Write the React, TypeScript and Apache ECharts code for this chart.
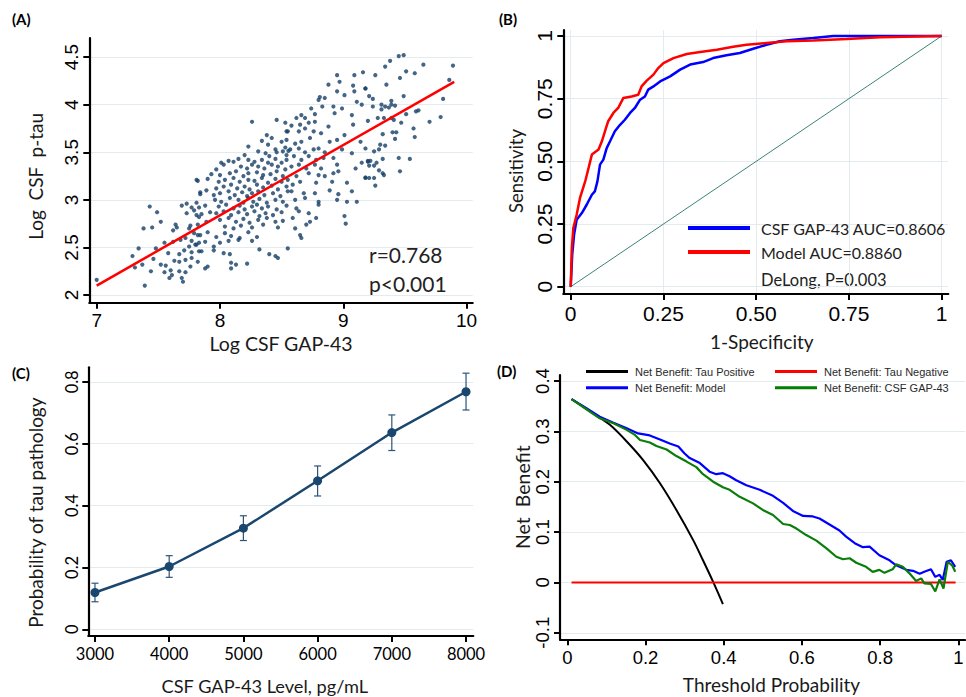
import React, { useEffect, useRef } from 'react';
import * as echarts from 'echarts';

// ---------- Panel A: scatter of Log CSF GAP-43 vs Log CSF p-tau ----------
const scatterPoints: number[][] = [
  // lower-left
  [7.81,3.21],[7.84,3.06],[7.43,2.93],[7.49,2.87],[7.45,2.71],[7.38,2.70],[7.52,2.77],[7.69,2.94],[7.73,2.96],[7.77,2.92],
  [7.79,2.89],[7.83,2.92],[7.73,2.86],[7.81,2.84],[7.83,2.82],[7.76,2.73],[7.75,2.70],[7.64,2.74],[7.62,2.68],[7.65,2.71],
  [7.79,2.65],[7.82,2.63],[7.55,2.55],[7.62,2.56],[7.68,2.58],[7.72,2.60],[7.77,2.57],[7.75,2.51],[7.80,2.53],[7.83,2.55],
  [7.34,2.49],[7.48,2.49],[7.29,2.41],[7.58,2.44],[7.67,2.43],[7.71,2.47],[7.77,2.45],[7.83,2.46],[7.63,2.36],[7.67,2.35],
  [7.72,2.37],[7.77,2.39],[7.82,2.35],[7.46,2.38],[7.37,2.32],[7.31,2.29],[7.52,2.32],[7.56,2.31],[7.55,2.24],[7.60,2.26],
  [7.61,2.21],[7.67,2.25],[7.72,2.24],[7.76,2.30],[7.69,2.18],[7.70,2.14],[7.59,2.18],[7.44,2.25],[7.00,2.16],[7.39,2.10],
  // centre-left margins
  [8.26,3.82],[8.46,3.84],[8.53,3.81],[8.54,3.72],[8.38,3.68],[8.34,3.62],[8.42,3.65],[8.23,3.56],[8.39,3.58],[8.50,3.61],
  [8.53,3.55],[8.45,3.53],[7.93,3.27],[7.82,3.20],[7.90,3.22],[7.84,3.08],[7.89,3.10],[7.95,3.05],[7.81,2.97],[7.88,2.94],
  [7.85,2.85],[7.92,2.87],[7.82,2.74],[7.89,2.77],[7.84,2.63],[7.90,2.66],[7.97,2.61],[8.04,2.65],[8.09,2.62],[8.16,2.60],
  [8.23,2.66],[8.30,2.61],[7.81,2.53],[7.88,2.56],[7.95,2.51],[8.00,2.55],[8.07,2.57],[8.15,2.58],[8.26,2.57],[7.85,2.46],
  [7.95,2.47],[8.03,2.44],[8.08,2.43],[8.32,2.48],[8.40,2.43],[8.45,2.41],[8.47,2.39],[7.88,2.28],[7.90,2.30],[8.09,2.34],
  [8.13,2.32],[8.22,2.33],[8.09,2.28],
  // dense core
  [8.20,3.47],[8.31,3.51],[8.37,3.49],[8.40,3.46],[8.46,3.50],[8.51,3.51],[8.54,3.47],[8.555,3.515],
  [8.01,3.39],[8.07,3.41],[8.11,3.40],[8.15,3.43],[8.23,3.42],[8.28,3.40],[8.34,3.42],[8.39,3.39],[8.45,3.43],[8.50,3.39],[8.54,3.42],
  [8.03,3.37],[8.17,3.35],[8.22,3.33],[8.26,3.37],[8.31,3.35],[8.36,3.33],[8.42,3.37],[8.47,3.35],[8.53,3.32],[7.97,3.32],
  [8.00,3.26],[8.08,3.28],[8.13,3.30],[8.19,3.25],[8.23,3.28],[8.30,3.29],[8.35,3.26],[8.41,3.27],[8.46,3.30],[8.51,3.25],
  [7.99,3.19],[8.04,3.21],[8.11,3.23],[8.16,3.19],[8.23,3.21],[8.28,3.20],[8.34,3.23],[8.39,3.18],[8.45,3.22],[8.50,3.19],[8.55,3.21],
  [7.97,3.12],[8.03,3.14],[8.09,3.16],[8.14,3.12],[8.20,3.14],[8.24,3.11],[8.30,3.16],[8.35,3.13],[8.42,3.15],[8.47,3.11],[8.54,3.14],
  [8.00,3.07],[8.07,3.09],[8.12,3.05],[8.18,3.08],[8.22,3.04],[8.26,3.07],[8.31,3.09],[8.36,3.05],[8.43,3.07],[8.49,3.04],[8.55,3.09],
  [7.96,3.00],[8.01,2.98],[8.08,3.02],[8.15,3.00],[8.19,2.97],[8.23,3.02],[8.27,2.98],[8.32,3.01],[8.38,2.97],[8.45,3.00],[8.51,2.98],
  [7.99,2.93],[8.05,2.95],[8.11,2.91],[8.16,2.94],[8.20,2.90],[8.26,2.93],[8.30,2.95],[8.34,2.91],[8.39,2.93],[8.46,2.90],[8.54,2.94],
  [7.97,2.86],[8.03,2.88],[8.09,2.84],[8.15,2.87],[8.22,2.85],[8.28,2.88],[8.32,2.83],[8.37,2.86],[8.43,2.84],[8.50,2.87],
  [8.00,2.79],[8.07,2.81],[8.13,2.77],[8.19,2.80],[8.24,2.76],[8.31,2.79],[8.38,2.81],[8.45,2.77],[8.51,2.78],
  [8.04,2.72],[8.11,2.70],[8.17,2.73],[8.26,2.71],[8.35,2.74],[8.47,2.71],
  // centre-right
  [8.95,4.31],[9.16,4.34],[9.09,4.31],[8.88,4.21],[8.97,4.24],[9.08,4.20],[9.18,4.17],[8.95,4.14],[9.01,4.10],[9.09,4.14],
  [8.81,4.08],[8.85,4.07],[8.80,4.05],[9.11,4.03],[9.15,4.00],[8.83,3.98],[8.92,3.98],[8.99,3.96],[8.74,3.96],[8.66,3.89],
  [8.62,3.86],[8.69,3.86],[8.77,3.90],[8.93,3.91],[9.07,3.89],[8.58,3.78],[8.65,3.79],[8.72,3.81],[8.77,3.82],[8.88,3.77],
  [9.08,3.79],[8.55,3.72],[8.64,3.72],[8.69,3.75],[8.76,3.72],[8.82,3.70],[9.01,3.68],[8.54,3.63],[8.61,3.59],[8.66,3.61],
  [8.73,3.65],[8.89,3.61],[8.95,3.63],[9.14,3.61],[8.57,3.53],[8.64,3.54],[8.69,3.50],[8.76,3.53],[8.80,3.54],[8.85,3.50],
  [8.99,3.53],[9.07,3.49],[9.18,3.54],[8.60,3.46],[8.66,3.42],[8.72,3.46],[8.78,3.42],[8.84,3.44],[8.92,3.44],
  [9.15,3.39],[9.20,3.40],[8.58,3.35],[8.64,3.37],[8.70,3.33],[8.77,3.37],[8.82,3.33],[8.95,3.37],[9.10,3.33],
  [8.62,3.25],[8.72,3.28],[8.80,3.26],[8.85,3.25],[8.92,3.28],[8.96,3.30],[9.18,3.235],[8.59,3.16],[8.65,3.19],
  [8.78,3.18],[8.91,3.19],[9.03,3.18],[8.58,3.09],[8.68,3.07],[8.77,3.07],[8.89,3.10],[8.96,3.06],[9.07,3.09],[8.61,3.00],
  [8.69,3.02],[8.80,2.98],[8.95,3.00],[9.03,2.98],[9.11,2.98],[8.62,2.91],[8.64,2.88],[8.80,2.95],[8.59,2.81],
  [8.72,2.86],[8.73,2.77],[8.78,2.81],[9.01,2.83],[8.61,2.70],[8.70,2.74],[9.02,2.75],[8.65,2.63],[8.66,2.60],
  [8.55,2.49],
  // upper-right
  [9.45,4.51],[9.49,4.52],[9.38,4.46],[9.34,4.40],[9.65,4.42],[9.89,4.41],[9.51,4.35],[9.58,4.33],[9.26,4.31],[9.46,4.28],
  [9.35,4.21],[9.18,4.17],[9.86,4.26],[9.21,4.09],[9.24,4.06],[9.49,4.09],[9.81,4.06],[9.31,4.00],[9.39,4.04],[9.42,3.99],
  [9.34,3.98],[9.37,3.97],[9.24,3.98],[9.31,3.95],[9.39,4.00],[9.51,3.90],[9.59,3.93],[9.61,3.94],[9.79,3.87],[9.28,3.86],
  [9.33,3.86],[9.39,3.86],[9.41,3.84],[9.20,3.83],[9.47,3.81],[9.70,3.82],[9.57,3.75],[9.32,3.69],[9.40,3.71],[9.43,3.71],
  [9.58,3.66],[9.42,3.64],[9.30,3.58],[9.34,3.57],[9.29,3.53],[9.25,3.51],[9.45,3.44],[9.54,3.43],[9.32,3.43],[9.20,3.41],
  [9.22,3.41],[9.27,3.39],[9.21,3.36],[9.25,3.36],[9.29,3.31],[9.32,3.28],[9.33,3.26],[9.46,3.30],[9.18,3.23],[9.21,3.23],
  [9.25,3.23],[9.26,3.15]
];
const fitLine: number[][] = [[7.0, 2.10], [9.9, 4.24]];
const aXTicks = [7, 8, 9, 10];
const aYTicks = [2, 2.5, 3, 3.5, 4, 4.5];

// ---------- Panel B: ROC curves ----------
const rocGap43: number[][] = [
  [0,0],[0.004,0.128],[0.009,0.207],[0.016,0.267],[0.030,0.294],[0.043,0.327],[0.057,0.367],[0.065,0.380],
  [0.072,0.420],[0.079,0.487],[0.088,0.507],[0.097,0.553],[0.106,0.580],[0.119,0.620],[0.133,0.646],[0.146,0.666],
  [0.160,0.693],[0.173,0.713],[0.187,0.746],[0.200,0.759],[0.209,0.786],[0.223,0.799],[0.241,0.819],[0.268,0.839],
  [0.295,0.866],[0.322,0.886],[0.357,0.896],[0.384,0.912],[0.420,0.923],[0.456,0.932],[0.492,0.949],[0.528,0.965],
  [0.564,0.979],[0.600,0.985],[0.654,0.992],[0.708,1.0],[1,1]
];
const rocModel: number[][] = [
  [0,0],[0.003,0.154],[0.007,0.234],[0.016,0.287],[0.025,0.354],[0.039,0.420],[0.048,0.473],[0.057,0.527],
  [0.075,0.547],[0.084,0.580],[0.095,0.633],[0.101,0.660],[0.115,0.693],[0.128,0.713],[0.142,0.753],[0.164,0.759],
  [0.182,0.766],[0.191,0.799],[0.205,0.822],[0.223,0.846],[0.236,0.872],[0.250,0.892],[0.277,0.912],[0.313,0.928],
  [0.349,0.936],[0.394,0.945],[0.438,0.957],[0.474,0.965],[0.528,0.972],[0.582,0.979],[0.654,0.982],[0.744,0.988],
  [0.834,0.995],[1,1]
];
const rocReference: number[][] = [[0, 0], [1, 1]];
const bTicks = [0, 0.25, 0.5, 0.75, 1];
const bTickLabels = ['0', '0.25', '0.50', '0.75', '1'];

// ---------- Panel C: predicted probability ----------
const cLevels = [3000, 4000, 5000, 6000, 7000, 8000];
const cProb = [0.119, 0.203, 0.327, 0.480, 0.636, 0.768];
const cLower = [0.089, 0.168, 0.287, 0.431, 0.578, 0.709];
const cUpper = [0.149, 0.238, 0.367, 0.528, 0.693, 0.828];
const cXTicks = [3000, 4000, 5000, 6000, 7000, 8000];
const cYTicks = [0, 0.2, 0.4, 0.6, 0.8];

// ---------- Panel D: decision curves ----------
const dTauPositive: number[][] = [
  [0.011,0.364],[0.066,0.336],[0.109,0.313],[0.152,0.280],[0.194,0.243],[0.237,0.197],[0.279,0.144],
  [0.322,0.084],[0.347,0.044],[0.373,0.001],[0.398,-0.043]
];
const dTauNegative: number[][] = [[0.011, 0], [0.993, 0]];
const dModel: number[][] = [
  [0.011,0.364],[0.049,0.346],[0.083,0.329],[0.118,0.317],[0.152,0.306],[0.181,0.296],[0.211,0.292],[0.237,0.284],
  [0.262,0.276],[0.284,0.270],[0.300,0.256],[0.313,0.247],[0.339,0.237],[0.364,0.220],[0.381,0.215],[0.398,0.217],
  [0.415,0.211],[0.432,0.203],[0.458,0.193],[0.492,0.184],[0.526,0.172],[0.552,0.158],[0.577,0.142],[0.603,0.132],
  [0.628,0.131],[0.645,0.127],[0.662,0.119],[0.696,0.103],[0.713,0.091],[0.735,0.078],[0.756,0.070],[0.773,0.071],
  [0.798,0.054],[0.824,0.044],[0.841,0.034],[0.867,0.025],[0.884,0.023],[0.901,0.017],[0.913,0.021],[0.930,0.026],
  [0.941,0.011],[0.952,0.015],[0.960,0.005],[0.970,0.041],[0.981,0.044],[0.992,0.031]
];
const dGap43: number[][] = [
  [0.011,0.364],[0.049,0.344],[0.083,0.326],[0.118,0.316],[0.152,0.303],[0.173,0.293],[0.186,0.283],[0.211,0.278],
  [0.228,0.271],[0.254,0.264],[0.279,0.251],[0.305,0.240],[0.330,0.229],[0.347,0.215],[0.373,0.200],[0.398,0.189],
  [0.415,0.184],[0.441,0.170],[0.475,0.157],[0.500,0.144],[0.526,0.134],[0.552,0.116],[0.569,0.114],[0.586,0.107],
  [0.611,0.094],[0.637,0.083],[0.662,0.068],[0.688,0.051],[0.705,0.046],[0.722,0.048],[0.739,0.039],[0.764,0.031],
  [0.781,0.021],[0.798,0.025],[0.811,0.019],[0.832,0.026],[0.841,0.036],[0.858,0.031],[0.875,0.018],[0.892,0.003],
  [0.905,0.008],[0.913,-0.002],[0.930,-0.003],[0.941,-0.018],[0.952,0.006],[0.962,-0.012],[0.973,0.041],[0.984,0.034],
  [0.992,0.021]
];
const dXTicks = [0, 0.2, 0.4, 0.6, 0.8, 1];
const dYTicks = [-0.1, 0, 0.1, 0.2, 0.3, 0.4];

const ARIAL = "'Liberation Sans', Arial, sans-serif";
const LATO = "Lato, 'Open Sans', sans-serif";
const GRIDC = '#e3ebee';

function makeAxis(o: any) {
  return {
    type: 'value',
    gridIndex: o.grid,
    min: o.min,
    max: o.max,
    name: o.name,
    nameLocation: 'middle',
    nameGap: o.nameGap,
    nameTextStyle: {
      fontFamily: LATO, fontSize: o.nameSize || 19, color: '#1a1a1a',
      padding: o.namePad || [0, 0, 0, 0],
    },
    axisLine: { show: true, onZero: false, lineStyle: { color: '#000', width: 2.2 } },
    axisTick: { show: true, customValues: o.ticks, length: 6, inside: false, lineStyle: { color: '#000', width: 2 } },
    axisLabel: {
      show: true,
      customValues: o.ticks,
      margin: o.margin,
      rotate: o.isY ? 90 : 0,
      fontFamily: o.font,
      fontSize: o.size,
      color: '#000',
      formatter: o.fmt || ((v: number) => String(v)),
    },
    splitLine: { show: !!o.split, lineStyle: { color: GRIDC, width: 1 } },
  };
}

export default function App() {
  const ref = useRef<HTMLDivElement>(null);
  useEffect(() => {
    if (!ref.current) return;
    const chart = echarts.init(ref.current, undefined, { renderer: 'svg' });
    const bFmt = (v: number) => {
      const i = bTicks.indexOf(v);
      return i >= 0 ? bTickLabels[i] : String(v);
    };
    const option: any = {
      animation: false,
      backgroundColor: '#ffffff',
      textStyle: { fontFamily: LATO },
      grid: [
        { left: 89.3, top: 38, width: 383.4, height: 264.7, outerBoundsMode: 'none' },
        { left: 563.3, top: 30, width: 385, height: 264, outerBoundsMode: 'none' },
        { left: 88.3, top: 367.3, width: 385, height: 268.7, outerBoundsMode: 'none' },
        { left: 560, top: 375, width: 405, height: 264.3, outerBoundsMode: 'none' },
      ],
      xAxis: [
        makeAxis({ grid: 0, min: 6.94, max: 10.05, ticks: aXTicks, font: ARIAL, size: 19, margin: 8, name: 'Log CSF GAP-43', nameGap: 31, nameSize: 19.5 }),
        makeAxis({ grid: 1, min: -0.02, max: 1.018, ticks: bTicks, font: ARIAL, size: 21, margin: 9, name: '1-Specificity', nameGap: 38, fmt: bFmt, split: true, namePad: [0, 0, 0, 12] }),
        makeAxis({ grid: 2, min: 2910, max: 8098, ticks: cXTicks, font: LATO, size: 16.5, margin: 9, name: 'CSF GAP-43 Level, pg/mL', nameGap: 41, nameSize: 18.2, namePad: [0, 32, 0, 0] }),
        makeAxis({ grid: 3, min: -0.0186, max: 1.017, ticks: dXTicks, font: ARIAL, size: 18.5, margin: 9, name: 'Threshold Probability', nameGap: 36, namePad: [0, 0, 0, 18] }),
      ],
      yAxis: [
        makeAxis({ grid: 0, isY: true, min: 1.92, max: 4.7, ticks: aYTicks, font: ARIAL, size: 19, margin: 8, name: 'Log  CSF  p-tau', nameGap: 44, split: true, namePad: [0, 12, 0, 0] }),
        makeAxis({ grid: 1, isY: true, min: -0.029, max: 1.024, ticks: bTicks, font: ARIAL, size: 21, margin: 8, name: 'Sensitivity', nameGap: 38, nameSize: 18.5, fmt: bFmt, split: true, namePad: [0, 18, 0, 0] }),
        makeAxis({ grid: 2, isY: true, min: -0.0217, max: 0.847, ticks: cYTicks, font: LATO, size: 16.5, margin: 8, name: 'Probability of tau pathology', nameGap: 43, split: true, namePad: [0, 22, 0, 0] }),
        makeAxis({ grid: 3, isY: true, min: -0.113, max: 0.412, ticks: dYTicks, font: ARIAL, size: 18.5, margin: 8, name: 'Net  Benefit', nameGap: 28, nameSize: 19.5, split: true, namePad: [0, 0, 0, 20] }),
      ],
      legend: [
        {
          data: ['CSF GAP-43 AUC=0.8606', 'Model AUC=0.8860'],
          orient: 'vertical', left: 688, top: 219, padding: 0, icon: 'rect', itemWidth: 62, itemHeight: 4, itemGap: 6,
          selectedMode: false,
          textStyle: { fontFamily: LATO, fontSize: 16, color: '#222', lineHeight: 18, padding: [0, 0, 0, 6] },
        },
        {
          data: ['Net Benefit: Tau Positive', 'Net Benefit: Model'],
          orient: 'vertical', left: 586, top: 365, padding: 0, icon: 'rect', itemWidth: 42, itemHeight: 3, itemGap: 3.3,
          selectedMode: false,
          textStyle: { fontFamily: ARIAL, fontSize: 11, color: '#2a2a2a', lineHeight: 13, padding: [0, 0, 0, 2] },
        },
        {
          data: ['Net Benefit: Tau Negative', 'Net Benefit: CSF GAP-43'],
          orient: 'vertical', left: 775, top: 365, padding: 0, icon: 'rect', itemWidth: 42, itemHeight: 3, itemGap: 3.3,
          selectedMode: false,
          textStyle: { fontFamily: ARIAL, fontSize: 11, color: '#2a2a2a', lineHeight: 13, padding: [0, 0, 0, 2] },
        },
      ],
      graphic: [
        { type: 'text', left: 12, top: 11, style: { text: '(A)', font: 'bold 15px Lato', fill: '#000' } },
        { type: 'text', left: 499, top: 11, style: { text: '(B)', font: 'bold 15px Lato', fill: '#000' } },
        { type: 'text', left: 12, top: 365, style: { text: '(C)', font: 'bold 15px Lato', fill: '#000' } },
        { type: 'text', left: 497, top: 363, style: { text: '(D)', font: 'bold 15px Lato', fill: '#000' } },
        { type: 'text', left: 369, top: 244, style: { text: 'r=0.768', font: '21px Lato', fill: '#222' } },
        { type: 'text', left: 369, top: 273, style: { text: 'p<0.001', font: '21px Lato', fill: '#222' } },
        { type: 'text', left: 761, top: 271, style: { text: 'DeLong, P=0.003', font: '16.5px Lato', fill: '#222' } },
      ],
      series: [
        {
          type: 'scatter', xAxisIndex: 0, yAxisIndex: 0, data: scatterPoints, symbol: 'circle', symbolSize: 4.2,
          itemStyle: { color: '#173f66' }, silent: true,
        },
        {
          type: 'line', xAxisIndex: 0, yAxisIndex: 0, data: fitLine, showSymbol: false, silent: true,
          lineStyle: { color: '#ff0000', width: 2.5 },
        },
        {
          type: 'line', xAxisIndex: 1, yAxisIndex: 1, data: rocReference, showSymbol: false, silent: true,
          lineStyle: { color: '#3b8377', width: 1 },
        },
        {
          name: 'CSF GAP-43 AUC=0.8606', type: 'line', xAxisIndex: 1, yAxisIndex: 1, data: rocGap43, showSymbol: false,
          color: '#0000ff', lineStyle: { color: '#0000ff', width: 2.5 },
        },
        {
          name: 'Model AUC=0.8860', type: 'line', xAxisIndex: 1, yAxisIndex: 1, data: rocModel, showSymbol: false,
          color: '#ff0000', lineStyle: { color: '#ff0000', width: 2.5 },
        },
        {
          type: 'custom', xAxisIndex: 2, yAxisIndex: 2, silent: true,
          data: cLevels.map((l, i) => [l, cLower[i], cUpper[i]]),
          encode: { x: 0, y: [1, 2] },
          renderItem: (params: any, api: any) => {
            const x = api.value(0);
            const top = api.coord([x, api.value(2)]);
            const bot = api.coord([x, api.value(1)]);
            const w = 3.5;
            const st = { stroke: '#2c5478', lineWidth: 1.2 };
            return {
              type: 'group',
              children: [
                { type: 'line', shape: { x1: top[0], y1: top[1], x2: bot[0], y2: bot[1] }, style: st },
                { type: 'line', shape: { x1: top[0] - w, y1: top[1], x2: top[0] + w, y2: top[1] }, style: st },
                { type: 'line', shape: { x1: bot[0] - w, y1: bot[1], x2: bot[0] + w, y2: bot[1] }, style: st },
              ],
            };
          },
        },
        {
          type: 'line', xAxisIndex: 2, yAxisIndex: 2, data: cLevels.map((l, i) => [l, cProb[i]]),
          symbol: 'circle', symbolSize: 9, showSymbol: true, silent: true,
          itemStyle: { color: '#1a476f' }, lineStyle: { color: '#1a476f', width: 2.5 },
        },
        {
          name: 'Net Benefit: Tau Positive', type: 'line', xAxisIndex: 3, yAxisIndex: 3, data: dTauPositive,
          showSymbol: false, smooth: 0.3, color: '#000000', lineStyle: { color: '#000000', width: 2 },
        },
        {
          name: 'Net Benefit: Tau Negative', type: 'line', xAxisIndex: 3, yAxisIndex: 3, data: dTauNegative,
          showSymbol: false, color: '#ff0000', lineStyle: { color: '#ff0000', width: 2 },
        },
        {
          name: 'Net Benefit: Model', type: 'line', xAxisIndex: 3, yAxisIndex: 3, data: dModel,
          showSymbol: false, color: '#0000ff', lineStyle: { color: '#0000ff', width: 2.2 },
        },
        {
          name: 'Net Benefit: CSF GAP-43', type: 'line', xAxisIndex: 3, yAxisIndex: 3, data: dGap43,
          showSymbol: false, color: '#008000', lineStyle: { color: '#0a7d0a', width: 2.2 },
        },
      ],
    };
    chart.setOption(option);
    return () => chart.dispose();
  }, []);
  return (
    <div
      ref={ref}
      style={{ position: 'fixed', left: 0, top: 0, width: 966, height: 697, background: '#ffffff' }}
    />
  );
}
